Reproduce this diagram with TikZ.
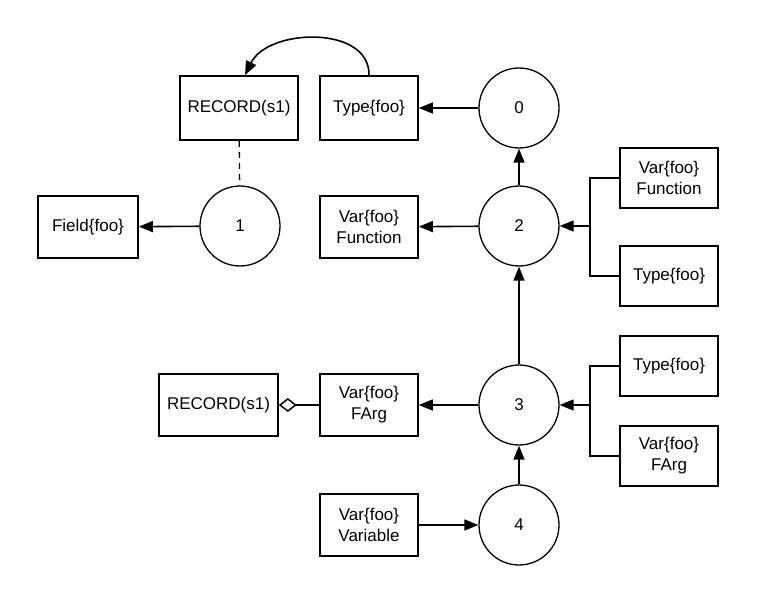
\documentclass[tikz,border=0pt]{standalone}
\usepackage{fontspec}
\setmainfont{Liberation Sans}
\usetikzlibrary{arrows.meta}
\tikzset{
  box/.style={draw,line width=1.6pt,minimum width=98pt,minimum height=62pt,align=center,inner sep=2pt},
  state/.style={draw,circle,line width=1.3pt,minimum size=80pt,inner sep=0pt},
  link/.style={line width=1.6pt,-{Triangle[length=14pt,width=11pt]}},
}
\begin{document}
\begin{tikzpicture}[x=1pt,y=-1pt,font=\fontsize{17}{21}\selectfont]
\useasboundingbox (0,0) rectangle (760,607);
% states
\node[state](s0) at (519,108){0};
\node[state](s1) at (240,226){1};
\node[state](s2) at (519,226){2};
\node[state](s3) at (519,405){3};
\node[state](s4) at (519,525){4};
% boxes
\node[box,minimum width=118pt,minimum height=64pt](rectop) at (239,108){RECORD(s1)};
\node[box,minimum height=64pt](typetop) at (369,108){Type\{foo\}};
\node[box,minimum width=100pt](field) at (88,227){Field\{foo\}};
\node[box](varfun) at (369,227){Var\{foo\}\\Function};
\node[box,minimum height=60pt](rvarfun) at (669,178){Var\{foo\}\\Function};
\node[box,minimum height=60pt](rtype) at (669,276){Type\{foo\}};
\node[box,minimum height=60pt](rtypeb) at (669,366){Type\{foo\}};
\node[box,minimum height=60pt](rvarfarg) at (669,456){Var\{foo\}\\FArg};
\node[box,minimum width=119pt](recbot) at (218.5,405){RECORD(s1)};
\node[box](varfarg) at (369,405){Var\{foo\}\\FArg};
\node[box](varvar) at (369,525){Var\{foo\}\\Variable};
% connectors
\draw[link](s2)--(s0);
\draw[link](s0)--(typetop);
\draw[link](s2)--(varfun);
\draw[link](s1)--(field);
\draw[link](s3)--(s2);
\draw[link](s3)--(varfarg);
\draw[link](s4)--(s3);
\draw[link](varvar)--(s4);
\draw[line width=1.3pt,dashed,dash pattern=on 6pt off 5pt](rectop)--(s1);
\draw[line width=1.6pt,-{Diamond[open,length=18pt,width=14pt,line width=1.5pt]}](varfarg)--(recbot);
\draw[link](typetop.north) .. controls (370,25) and (268,28) .. ([xshift=6pt]rectop.north);
%
\coordinate(j2) at (590,226);
\draw[line width=1.6pt](rvarfun.west)-|(j2)|-(rtype.west);
\draw[link](j2)--(s2);
\coordinate(j3) at (590,405);
\draw[line width=1.6pt](rtypeb.west)-|(j3)|-(rvarfarg.west);
\draw[link](j3)--(s3);
\end{tikzpicture}
\end{document}
